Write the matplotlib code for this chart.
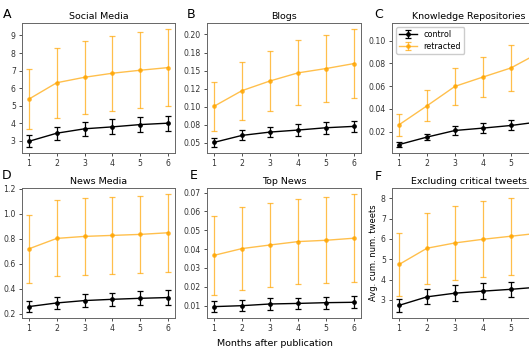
import numpy as np
import matplotlib
matplotlib.use("Agg")
import matplotlib.pyplot as plt
from matplotlib.ticker import MultipleLocator, FormatStrFormatter

months = [1, 2, 3, 4, 5, 6]

# Social Media
sm_ctrl = [2.98, 3.44, 3.69, 3.80, 3.93, 4.01]
sm_ctrl_err = [0.33, 0.38, 0.40, 0.43, 0.43, 0.43]
sm_retr = [5.38, 6.31, 6.62, 6.85, 7.02, 7.17]
sm_retr_err = [1.72, 1.98, 2.06, 2.12, 2.16, 2.20]

# Blogs
bl_ctrl = [0.0505, 0.0602, 0.0648, 0.0676, 0.0708, 0.0727]
bl_ctrl_err = [0.0065, 0.0070, 0.0075, 0.0080, 0.0080, 0.0080]
bl_retr = [0.1005, 0.1222, 0.1356, 0.1468, 0.1528, 0.1597]
bl_retr_err = [0.034, 0.040, 0.042, 0.045, 0.046, 0.048]

# Knowledge Repositories
kr_ctrl = [0.0085, 0.0151, 0.0209, 0.0230, 0.0253, 0.0285]
kr_ctrl_err = [0.0022, 0.0026, 0.0040, 0.0042, 0.0044, 0.0045]
kr_retr = [0.0259, 0.0426, 0.0597, 0.0679, 0.0759, 0.0892]
kr_retr_err = [0.0097, 0.0135, 0.0163, 0.0180, 0.0200, 0.0210]

# News Media
nm_ctrl = [0.259, 0.288, 0.307, 0.317, 0.325, 0.331]
nm_ctrl_err = [0.044, 0.047, 0.050, 0.053, 0.055, 0.058]
nm_retr = [0.720, 0.803, 0.819, 0.827, 0.835, 0.848]
nm_retr_err = [0.272, 0.303, 0.306, 0.308, 0.310, 0.310]

# Top News
tn_ctrl = [0.0095, 0.0100, 0.0109, 0.0112, 0.0116, 0.0118]
tn_ctrl_err = [0.0029, 0.0029, 0.0033, 0.0031, 0.0031, 0.0031]
tn_retr = [0.0367, 0.0403, 0.0422, 0.0440, 0.0447, 0.0458]
tn_retr_err = [0.0210, 0.0220, 0.0223, 0.0224, 0.0227, 0.0235]

# Excluding critical tweets
ex_ctrl = [2.73, 3.15, 3.33, 3.43, 3.52, 3.63]
ex_ctrl_err = [0.33, 0.37, 0.38, 0.38, 0.38, 0.39]
ex_retr = [4.74, 5.54, 5.80, 5.98, 6.13, 6.28]
ex_retr_err = [1.57, 1.75, 1.83, 1.87, 1.90, 1.93]

W, H = 529, 353
fig = plt.figure(figsize=(W / 100, H / 100), dpi=100)


def box(left, top, right, bottom):
    return [left / W, 1 - bottom / H, (right - left) / W, (bottom - top) / H]


panels = [
    ("A", "Social Media", box(22, 23, 175, 153), sm_ctrl, sm_ctrl_err, sm_retr, sm_retr_err, 1, "%d", (3, 14)),
    ("B", "Blogs", box(207, 23, 361, 153), bl_ctrl, bl_ctrl_err, bl_retr, bl_retr_err, 0.025, "%.2f", (187, 14)),
    ("C", "Knowledge Repositories", box(392, 23, 546, 153), kr_ctrl, kr_ctrl_err, kr_retr, kr_retr_err, 0.02, "%.2f", (374, 14)),
    ("D", "News Media", box(22, 188, 175, 318), nm_ctrl, nm_ctrl_err, nm_retr, nm_retr_err, 0.2, "%.1f", (2, 176)),
    ("E", "Top News", box(207, 188, 361, 318), tn_ctrl, tn_ctrl_err, tn_retr, tn_retr_err, 0.01, "%.2f", (190, 176)),
    ("F", "Excluding critical tweets", box(392, 188, 546, 318), ex_ctrl, ex_ctrl_err, ex_retr, ex_retr_err, 1, "%d", (375, 177)),
]

axes = {}
for letter, title, pos, c, ce, r, re, step, fmt, lpos in panels:
    ax = fig.add_axes(pos)
    ax.errorbar(months, c, yerr=ce, color="black", marker="o", markersize=2.4,
                lw=1.0, elinewidth=0.9, capsize=2.3, capthick=0.9, label="control")
    ax.errorbar(months, r, yerr=re, color="orange", alpha=0.7, marker="o", markersize=2.4,
                lw=1.0, elinewidth=0.9, capsize=2.3, capthick=0.9, label="retracted")
    ax.set_title(title, fontsize=6.8, pad=3)
    # the right column is cut by the picture edge: its tick 6 is not visible
    ax.set_xticks(months if letter not in ("C", "F") else months[:5])
    ax.set_xlim(0.75, 6.25)
    ax.yaxis.set_major_locator(MultipleLocator(step))
    ax.yaxis.set_major_formatter(FormatStrFormatter(fmt))
    ax.tick_params(labelsize=5.6, length=2.5, width=0.6, pad=2, colors="0.2")
    for s in ax.spines.values():
        s.set_linewidth(0.7)
        s.set_color("0.4")
    fig.text(lpos[0] / W, 1 - lpos[1] / H, letter, fontsize=9, ha="left", va="center")
    axes[letter] = ax

axes["C"].legend(loc="upper left", fontsize=5.8, handlelength=2.2, borderpad=0.4,
                 labelspacing=0.3, framealpha=1, edgecolor="0.8")
axes["F"].set_ylabel("Avg. cum. num. tweets", fontsize=6, labelpad=2)

fig.text(275 / W, 1 - 343 / H, "Months after publication", fontsize=6.8, ha="center", va="center")

fig.savefig("out.png", dpi=100)
